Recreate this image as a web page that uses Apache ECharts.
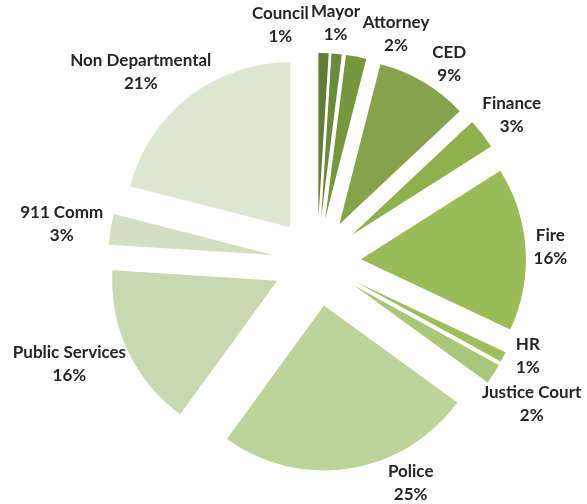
<!DOCTYPE html>
<html>
<head>
<meta charset="utf-8">
<script src="https://cdn.jsdelivr.net/npm/echarts@6/dist/echarts.min.js"></script>
<style>
  html, body { margin: 0; padding: 0; background: #ffffff; }
  #chart { width: 587px; height: 504px; }
</style>
</head>
<body>
<div id="chart"></div>
<script>
// Budget share by department, in percent
const departments = ['Council', 'Mayor', 'Attorney', 'CED', 'Finance', 'Fire', 'HR',
  'Justice Court', 'Police', 'Public Services', '911 Comm', 'Non Departmental'];
const shares = [1, 1, 2, 9, 3, 16, 1, 2, 25, 16, 3, 21];
const sliceColors = ['#5f7d34', '#6a8a3b', '#77973f', '#86a34c', '#8fb04c', '#9bbb59',
  '#9ebd5c', '#a9c67a', '#bcd39a', '#c8d8b0', '#d2dfc2', '#dde6d2'];

const W = 587, H = 504;
const CX = 317, CY = 262;
const RADIUS = 165;
const EXPLODE = 44;
const LABEL_GAP = 8;
const FONT_SIZE = 17;
const LINE_H = 23;
const LABEL_FONT = 'bold ' + FONT_SIZE + 'px Lato';

const total = shares.reduce((a, b) => a + b, 0);
const labelTexts = departments.map((d, i) => d + '\n' + shares[i] + '%');

// bisector angle of each slice, clockwise from 12 o'clock, in radians
const midAngles = [];
{
  let acc = 0;
  shares.forEach(v => {
    midAngles.push((acc + v / 2) / total * Math.PI * 2);
    acc += v;
  });
}

// text block sizes
const measureCtx = document.createElement('canvas').getContext('2d');
measureCtx.font = LABEL_FONT;
const labelSizes = labelTexts.map(t => {
  const lines = t.split('\n');
  const w = Math.max(...lines.map(l => measureCtx.measureText(l).width));
  return { w: w, h: lines.length * LINE_H };
});

// Label box whose near edge sits on a ring just outside the exploded slices
function boxAt(angle, size) {
  const reach = RADIUS + EXPLODE + LABEL_GAP;
  const s = Math.sin(angle), c = Math.cos(angle);
  let x = CX + reach * s + (size.w / 2) * s;
  const y = CY - reach * c - (size.h / 2) * c;
  x = Math.min(Math.max(x, size.w / 2 + 1), W - size.w / 2 - 1);
  return { x: x, y: y, x0: x - size.w / 2, x1: x + size.w / 2, y0: y - size.h / 2, y1: y + size.h / 2 };
}

function overlaps(a, b, pad) {
  return a.x0 < b.x1 + pad && b.x0 < a.x1 + pad && a.y0 < b.y1 + pad && b.y0 < a.y1 + pad;
}

// Slide crowded labels apart along the ring and keep them on the canvas
function solveLabels() {
  const ang = midAngles.slice();
  const step = 0.2 * Math.PI / 180;
  const n = ang.length;
  for (let iter = 0; iter < 3000; iter++) {
    let moved = false;
    const boxes = ang.map((a, i) => boxAt(a, labelSizes[i]));
    for (let i = 0; i < n; i++) {
      if (boxes[i].y1 > H + 2) {
        ang[i] += ang[i] < Math.PI ? -step : step;
        moved = true;
      }
    }
    for (let i = 0; i < n; i++) {
      const j = (i + 1) % n;
      if (overlaps(boxes[i], boxes[j], 2)) {
        ang[i] -= step;
        ang[j] += step;
        moved = true;
      }
    }
    if (!moved) break;
  }
  return ang.map((a, i) => boxAt(a, labelSizes[i]));
}

const labelBoxes = solveLabels();

const chart = echarts.init(document.getElementById('chart'), null, { renderer: 'canvas' });

const pieData = departments.map((name, i) => ({
  name: name,
  value: shares[i],
  selected: true,
  itemStyle: { color: sliceColors[i] }
}));

chart.setOption({
  animation: false,
  backgroundColor: '#ffffff',
  graphic: labelBoxes.map((b, i) => ({
    type: 'text',
    silent: true,
    x: b.x,
    y: b.y,
    style: {
      text: labelTexts[i],
      font: LABEL_FONT,
      lineHeight: LINE_H,
      fill: '#262626',
      align: 'center',
      verticalAlign: 'middle'
    }
  })),
  series: [{
    type: 'pie',
    center: [CX, CY],
    radius: RADIUS,
    startAngle: 90,
    clockwise: true,
    selectedMode: 'multiple',
    selectedOffset: EXPLODE,
    emphasis: { disabled: true },
    itemStyle: { borderWidth: 0 },
    label: { show: false },
    labelLine: { show: false },
    data: pieData
  }]
});
</script>
</body>
</html>
